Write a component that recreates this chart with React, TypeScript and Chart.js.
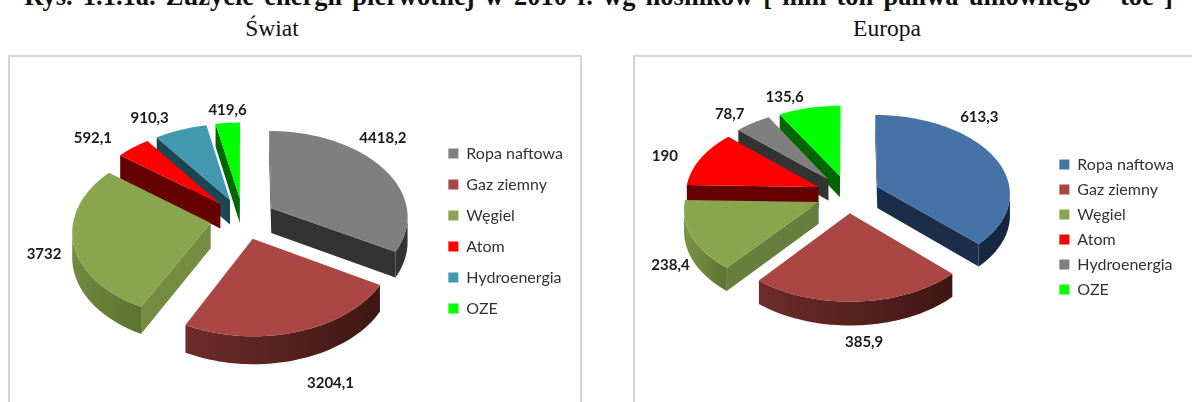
import React, { useEffect, useRef } from "react";
import { Chart, registerables } from "chart.js";

Chart.register(...registerables);

const TITLE = "Rys. 1.1.1a. Zużycie energii pierwotnej w 2010 r. wg nośników [ mln ton paliwa umownego - toe ]";
const categories = ["Ropa naftowa", "Gaz ziemny", "Węgiel", "Atom", "Hydroenergia", "OZE"];
const worldValues = [4418.2, 3204.1, 3732, 592.1, 910.3, 419.6];
const europeValues = [613.3, 385.9, 238.4, 190, 78.7, 135.6];

const worldTop = ["#7f7f7f", "#aa4643", "#89a54e", "#ff0000", "#4198af", "#00ff00"];
const worldFace = ["#333333", "#4a1c1a", "#738c42", "#660000", "#1c4653", "#006600"];
const worldRimA = ["#333333", "#6e2c2a", "#6f8a3f", "#660000", "#1c4653", "#006600"];
const worldRimB = ["#333333", "#3e1613", "#5d7232", "#660000", "#1c4653", "#006600"];
const europeTop = ["#4572a7", "#aa4643", "#89a54e", "#ff0000", "#7f7f7f", "#00ff00"];
const europeFace = ["#1a2e4a", "#4a1c1a", "#667f3c", "#660000", "#333333", "#006600"];
const europeRimA = ["#1a2e4a", "#6e2c2a", "#7a9446", "#660000", "#333333", "#006600"];
const europeRimB = ["#152640", "#3e1613", "#5d7232", "#660000", "#333333", "#006600"];

const worldNudge = [[-21, -24], [23, 29], [-1, 6], [-24, 0], [-22, 0], [2, -1]];
const europeNudge = [[-38, -36], [4, 20], [5, 20], [-13, 2], [-9, 0], [-19, 0]];

type View = {
  cx: number; cy: number; tilt: number; dist: number; depth: number;
  top: string[]; face: string[]; rimA: string[]; rimB: string[]; nudge: number[][];
};

const fmt = (v: number) => String(v).replace(".", ",");

const pie3d = {
  id: "pie3d",
  beforeDatasetsDraw(chart: any, _args: any, o: View) {
    const ctx: CanvasRenderingContext2D = chart.ctx;
    const meta = chart.getDatasetMeta(0);
    const project = (px: number, py: number, z: number) => {
      const w = 1 / (1 - py / o.dist);
      return [o.cx + px * w, o.cy + (o.tilt * py + z) * w];
    };
    const area = (a: number[], b: number[], c: number[], d: number[]) =>
      (a[0] * b[1] - b[0] * a[1]) + (b[0] * c[1] - c[0] * b[1]) + (c[0] * d[1] - d[0] * c[1]) + (d[0] * a[1] - a[0] * d[1]);
    const addQuad = (a: number[], b: number[], c: number[], d: number[]) => {
      ctx.moveTo(a[0], a[1]); ctx.lineTo(b[0], b[1]); ctx.lineTo(c[0], c[1]); ctx.lineTo(d[0], d[1]);
      ctx.closePath();
    };
    const order = meta.data.map((_: any, i: number) => i).sort((a: number, b: number) => {
      const m = (i: number) => (meta.data[i].startAngle + meta.data[i].endAngle) / 2;
      return Math.sin(m(a)) - Math.sin(m(b));
    });
    for (const i of order) {
      const el = meta.data[i];
      const R = el.outerRadius;
      const off = el.options.offset;
      const mid = (el.startAngle + el.endAngle) / 2;
      const ox = Math.cos(mid) * off, oy = Math.sin(mid) * off;
      const at = (a: number, z: number) => project(ox + Math.cos(a) * R, oy + Math.sin(a) * R, z);
      const apex = (z: number) => project(ox, oy, z);
      const steps = Math.max(4, Math.ceil((el.endAngle - el.startAngle) / 0.03));
      const angles: number[] = [];
      for (let k = 0; k <= steps; k++) angles.push(el.startAngle + ((el.endAngle - el.startAngle) * k) / steps);
      const d = o.depth;
      const xs = angles.map((a) => at(a, 0)[0]);
      const grad = ctx.createLinearGradient(Math.min(...xs), 0, Math.max(...xs), 0);
      grad.addColorStop(0, o.rimA[i]);
      grad.addColorStop(1, o.rimB[i]);

      ctx.fillStyle = o.face[i];
      ctx.beginPath();
      const e = [apex(0), at(el.endAngle, 0), at(el.endAngle, d), apex(d)];
      if (area(e[0], e[1], e[2], e[3]) > 0) addQuad(e[0], e[1], e[2], e[3]);
      const s = [at(el.startAngle, 0), apex(0), apex(d), at(el.startAngle, d)];
      if (area(s[0], s[1], s[2], s[3]) > 0) addQuad(s[0], s[1], s[2], s[3]);
      ctx.fill();

      // the rim is one outline per visible run, so no seams appear between its steps
      ctx.fillStyle = grad;
      ctx.beginPath();
      let run: number[] = [];
      const flush = () => {
        if (run.length > 1) {
          run.forEach((a, k) => { const p = at(a, 0); if (k === 0) ctx.moveTo(p[0], p[1]); else ctx.lineTo(p[0], p[1]); });
          for (let k = run.length - 1; k >= 0; k--) { const p = at(run[k], d); ctx.lineTo(p[0], p[1]); }
          ctx.closePath();
        }
        run = [];
      };
      for (let k = 0; k < steps; k++) {
        const vis = area(at(angles[k], 0), at(angles[k + 1], 0), at(angles[k + 1], d), at(angles[k], d)) < 0;
        if (vis) {
          if (run.length === 0) run.push(angles[k]);
          run.push(angles[k + 1]);
        } else flush();
      }
      flush();
      ctx.fill();

      ctx.beginPath();
      const p0 = apex(0);
      ctx.moveTo(p0[0], p0[1]);
      for (const a of angles) { const p = at(a, 0); ctx.lineTo(p[0], p[1]); }
      ctx.closePath();
      ctx.fillStyle = el.options.backgroundColor;
      ctx.fill();
    }
    ctx.save();
    ctx.font = "bold 15px Lato";
    ctx.fillStyle = "#1a1a1a";
    ctx.textAlign = "center";
    ctx.textBaseline = "middle";
    meta.data.forEach((el: any, i: number) => {
      const off = el.options.offset;
      const mid = (el.startAngle + el.endAngle) / 2;
      const r = el.outerRadius * 1.2 + off;
      const p = project(Math.cos(mid) * r, Math.sin(mid) * r, 0);
      ctx.fillText(fmt(chart.data.datasets[0].data[i]), p[0] + o.nudge[i][0], p[1] + o.nudge[i][1] + 1.5);
    });
    ctx.restore();
    return false;
  },
};

function Pie(props: {
  values: number[]; view: View; radius: number; offset: number;
  style: React.CSSProperties; width: number; height: number; legend: any; padding: any;
}) {
  const ref = useRef<HTMLCanvasElement>(null);
  useEffect(() => {
    const chart = new Chart(ref.current as HTMLCanvasElement, {
      type: "pie",
      data: {
        labels: categories,
        datasets: [{ data: props.values, backgroundColor: props.view.top, borderWidth: 0, offset: props.offset, radius: props.radius } as any],
      },
      options: {
        animation: false,
        responsive: false,
        layout: { padding: props.padding },
        plugins: {
          tooltip: { enabled: false },
          pie3d: props.view,
          legend: {
            position: "right",
            align: "center",
            labels: { color: "#333333", font: { family: "Lato", size: props.legend.size }, boxWidth: 10, boxHeight: 10, padding: props.legend.gap },
          },
        } as any,
      },
      plugins: [pie3d as any],
    });
    return () => chart.destroy();
  }, []);
  return <canvas ref={ref} width={props.width} height={props.height} style={{ ...props.style, position: "absolute", display: "block", filter: "blur(0.45px)" }} />;
}

const panel = (left: number, width: number): React.CSSProperties => ({
  position: "absolute", left, top: 55, width, height: 400, border: "2px solid #d4d4d4", boxSizing: "border-box", background: "#fff",
});
const serif = "'Liberation Serif', serif";
const sub = (center: number): React.CSSProperties => ({
  position: "absolute", left: center - 100, width: 200, top: 15, textAlign: "center", font: `23.5px ${serif}`, color: "#111",
});

export default function App() {
  const worldView: View = { cx: 235, cy: 163.5, tilt: 0.625, dist: 1600, depth: 25, top: worldTop, face: worldFace, rimA: worldRimA, rimB: worldRimB, nudge: worldNudge };
  const europeView: View = { cx: 215, cy: 139, tilt: 0.59, dist: 1708, depth: 21.5, top: europeTop, face: europeFace, rimA: europeRimA, rimB: europeRimB, nudge: europeNudge };
  return (
    <div style={{ position: "fixed", left: 0, top: 0, width: 1192, height: 402, overflow: "hidden", background: "#fff" }}>
      <div style={{ position: "absolute", left: 0, width: 1197, top: -19, textAlign: "center", whiteSpace: "nowrap", font: `bold 26.5px ${serif}`, wordSpacing: 3.5, color: "#111" }}>{TITLE}</div>
      <div style={sub(272)}>Świat</div>
      <div style={sub(887)}>Europa</div>
      <div style={panel(8, 574)} />
      <div style={{ ...panel(633, 600), borderRight: "none" }} />
      <Pie values={worldValues} view={worldView} radius={137} offset={33} width={574} height={347}
        style={{ left: 8, top: 55 }} legend={{ size: 16, gap: 15 }} padding={{ top: 5, right: 9 }} />
      <Pie values={europeValues} view={europeView} radius={133} offset={32} width={559} height={347}
        style={{ left: 633, top: 55 }} legend={{ size: 16, gap: 9 }} padding={{ bottom: 3, right: 8 }} />
    </div>
  );
}
